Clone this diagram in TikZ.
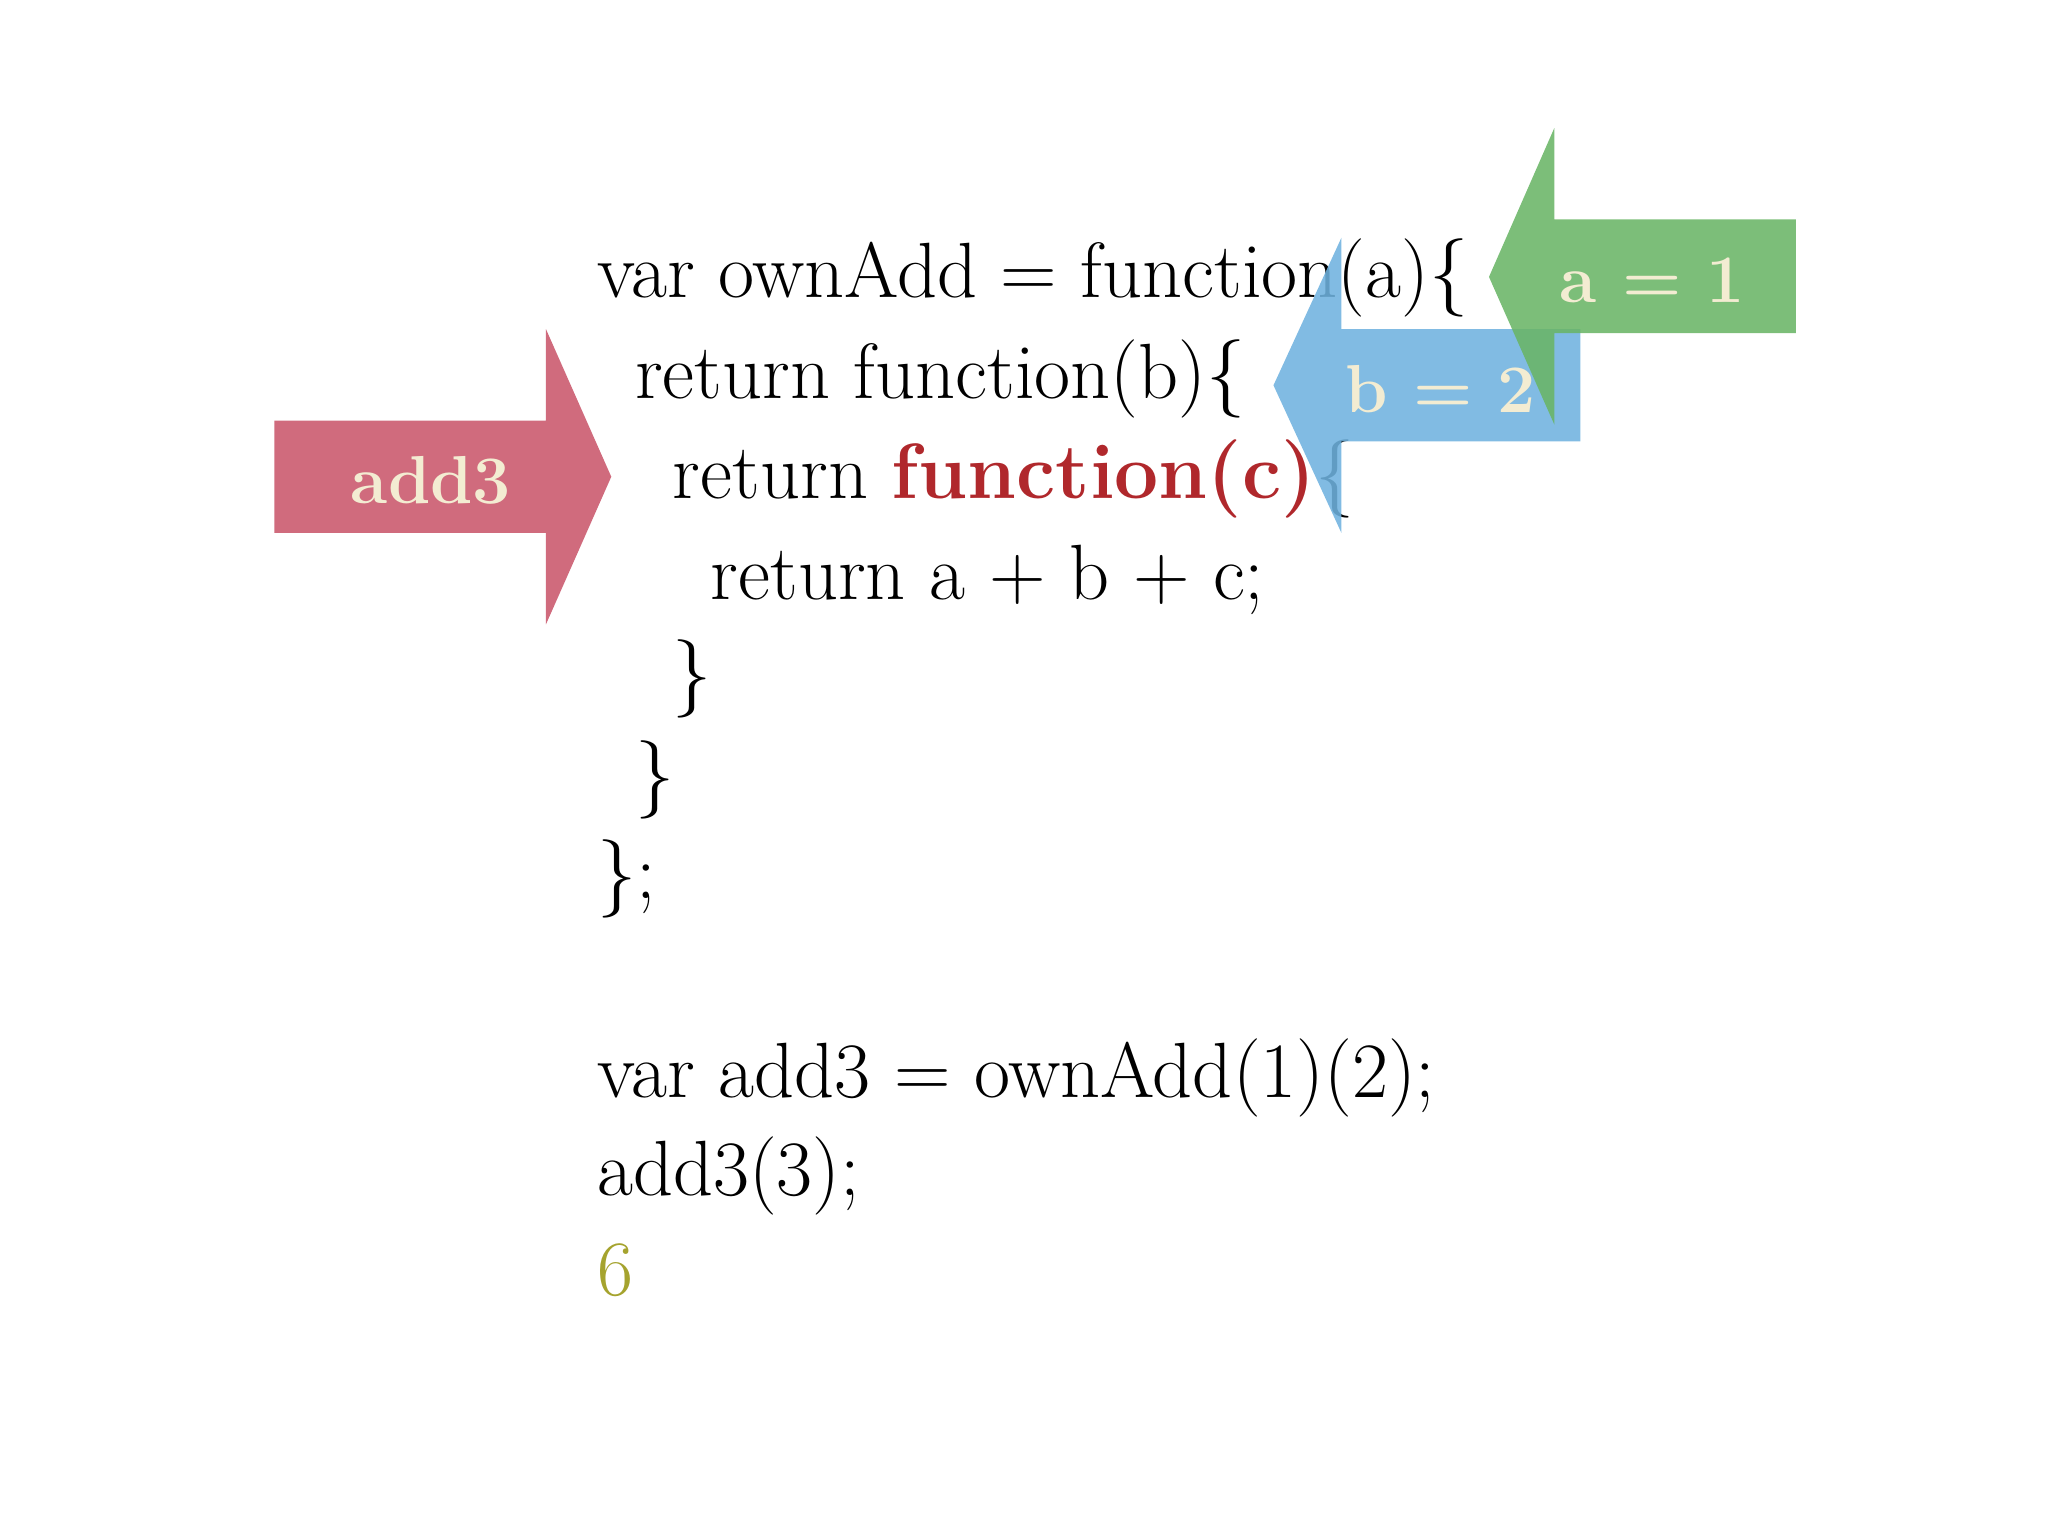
\documentclass[tikz,border=0pt]{standalone}
\begin{document}
\begin{tikzpicture}[x=1pt,y=-1pt,
  code/.style={anchor=base west,inner sep=0pt,font=\fontsize{60}{60}\selectfont},
  lab/.style={inner sep=0pt,text=labtext,font=\fontsize{52}{52}\selectfont\bfseries},
  arr/.style={opacity=0.88}]
\definecolor{redarr}{HTML}{C9566B}
\definecolor{bluearr}{HTML}{6FB2DF}
\definecolor{greenarr}{HTML}{6AB566}
\definecolor{labtext}{HTML}{F3ECD2}
\definecolor{fnred}{HTML}{B0282C}
\definecolor{six}{HTML}{A5A32E}
\useasboundingbox (0,0) rectangle (1568,1176);
\node[code] (l1) at (457,228) {var ownAdd = function(a)\{};
\node[code] (l2) at (486,305) {return function(b)\{};
\node[code] (l3) at (515,382) {return \textcolor{fnred}{\bfseries function(c)}\{};
\node[code] (l4) at (544,459) {return a + b + c;};
\node[code] (l5) at (515,535) {\}};
\node[code] (l6) at (486,612) {\}};
\node[code] (l7) at (457,688) {\};};
\node[code] (l8) at (457,840) {var add3 = ownAdd(1)(2);};
\node[code] (l9) at (457,915) {add3(3);};
\node[code,text=six] (l10) at (457,992) {6};
% red arrow
\fill[redarr,arr] (210,322) -- (418,322) -- (418,252) -- (468,365) -- (418,478) -- (418,408) -- (210,408) -- cycle;
\node[lab] (r) at (330,368) {add3};
% blue arrow
\fill[bluearr,arr] (1210,252) -- (1027,252) -- (1027,182) -- (975,295) -- (1027,408) -- (1027,338) -- (1210,338) -- cycle;
\node[lab] (b) at (1103,298) {b = 2};
% green arrow
\fill[greenarr,arr] (1375,168) -- (1190,168) -- (1190,98) -- (1140,212) -- (1190,325) -- (1190,255) -- (1375,255) -- cycle;
\node[lab] (g) at (1265,215) {a = 1};
\end{tikzpicture}
\end{document}
